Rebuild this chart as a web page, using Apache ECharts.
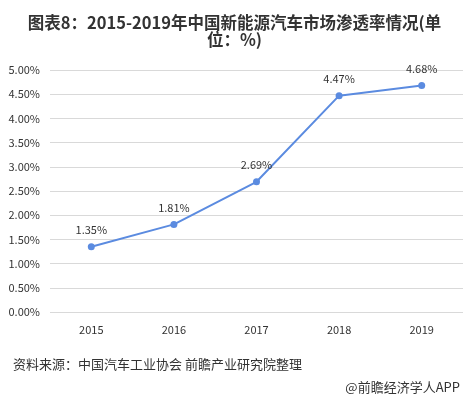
<!DOCTYPE html>
<html><head><meta charset="utf-8">
<script src="https://cdn.jsdelivr.net/npm/echarts@6/dist/echarts.min.js"></script>
<style>html,body{margin:0;padding:0;background:#fff}#c{width:469px;height:395px}</style>
</head><body><div id="c"></div>
<script>
var years = ['2015','2016','2017','2018','2019'];
var rates = [1.35, 1.81, 2.69, 4.47, 4.68];
var chart = echarts.init(document.getElementById('c'));
var ff = '"Noto Sans CJK SC", "Noto Sans", sans-serif';
chart.setOption({
  animation: false,
  title: [
    {text: '图表8：2015-2019年中国新能源汽车市场渗透率情况(单', left: 'center', top: 9,
     textStyle: {fontFamily: ff, fontSize: 16.5, fontWeight: 'bold', color: '#333'}},
    {text: '位：%)', left: 'center', top: 26,
     textStyle: {fontFamily: ff, fontSize: 16.5, fontWeight: 'bold', color: '#333'}},
    {text: '资料来源：中国汽车工业协会 前瞻产业研究院整理', left: 8, top: 353,
     textStyle: {fontFamily: ff, fontSize: 13, fontWeight: 'normal', color: '#333'}},
    {text: '@前瞻经济学人APP', right: 4, top: 376,
     textStyle: {fontFamily: ff, fontSize: 13, fontWeight: 'normal', color: '#333'}}
  ],
  grid: {left: 50, right: 6, top: 70, bottom: 83},
  xAxis: {type: 'category', data: years, boundaryGap: true,
    axisLine: {show: false}, axisTick: {show: false},
    axisLabel: {fontFamily: ff, fontSize: 11, color: '#333', margin: 12}},
  yAxis: {type: 'value', min: 0, max: 5, interval: 0.5,
    axisLine: {show: false}, axisTick: {show: false},
    splitLine: {lineStyle: {color: '#d9d9d9', width: 1}},
    axisLabel: {fontFamily: ff, fontSize: 11, color: '#333', margin: 10,
      formatter: function(v){return v.toFixed(2)+'%';}}},
  series: [{type: 'line', data: rates, symbol: 'circle', symbolSize: 7,
    lineStyle: {color: '#5b8be0', width: 2}, itemStyle: {color: '#5b8be0'},
    label: {show: true, position: 'top', distance: 8, fontFamily: ff, fontSize: 11, color: '#333',
      formatter: function(p){return p.value.toFixed(2)+'%';}}}]
});
</script></body></html>
